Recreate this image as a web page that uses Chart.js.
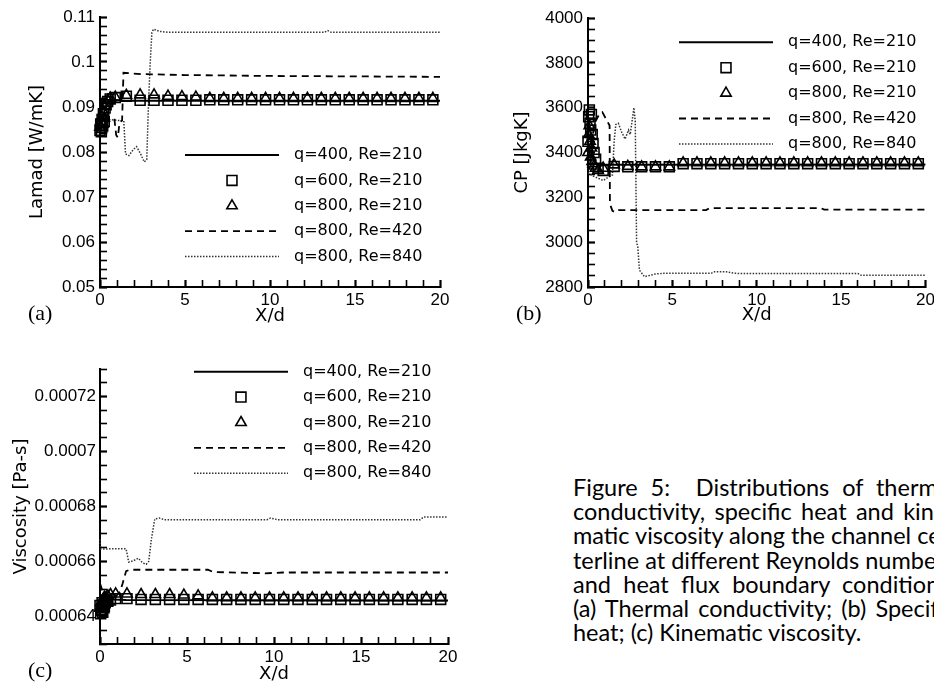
<!DOCTYPE html>
<html>
<head>
<meta charset="utf-8">
<script src="https://cdn.jsdelivr.net/npm/chart.js@4.4.1/dist/chart.umd.min.js"></script>
<style>
  html, body { margin: 0; padding: 0; background: #fff; overflow: hidden; }
  body { width: 934px; height: 687px; position: relative; }
  canvas { position: absolute; }
  .tag { position: absolute; font-family: "Liberation Serif", serif; font-size: 22px; line-height: 24px; color: #000; }
  #caption { position: absolute; left: 573px; top: 475px; width: 382px;
             font-family: "Lato", sans-serif; font-size: 23.5px; line-height: 24.2px; color: #000; white-space: nowrap; }
  #caption div { text-align: justify; text-align-last: justify; }
  #caption div.last { text-align: left; text-align-last: left; }
</style>
</head>
<body>
<canvas id="chartA" width="467" height="330" style="left:0;top:0"></canvas>
<canvas id="chartB" width="467" height="330" style="left:467px;top:0"></canvas>
<canvas id="chartC" width="467" height="357" style="left:0;top:330px"></canvas>
<div class="tag" style="left:28px;top:301px">(a)</div>
<div class="tag" style="left:516px;top:301px">(b)</div>
<div class="tag" style="left:28px;top:658px">(c)</div>
<div id="caption">
  <div>Figure 5:&nbsp; Distributions of thermal</div>
  <div>conductivity, specific heat and kine-</div>
  <div>matic viscosity along the channel cen-</div>
  <div>terline at different Reynolds numbers</div>
  <div>and heat flux boundary conditions.</div>
  <div>(a) Thermal conductivity; (b) Specific</div>
  <div class="last">heat; (c) Kinematic viscosity.</div>
</div>
<script>
// series names (same five cases in every panel)
const SERIES_LABELS = ['q=400, Re=210', 'q=600, Re=210', 'q=800, Re=210', 'q=800, Re=420', 'q=800, Re=840'];

// tick labels
const X_TICK_LABELS = ['0', '5', '10', '15', '20'];
const A_Y_TICK_LABELS = ['0.05', '0.06', '0.07', '0.08', '0.09', '0.1', '0.11'];
const B_Y_TICK_LABELS = ['2800', '3000', '3200', '3400', '3600', '3800', '4000'];
const C_Y_TICK_LABELS = ['0.00064', '0.00066', '0.00068', '0.0007', '0.00072'];

// x positions of the symbol series (q=600 / q=800 at Re=210)
const MARKER_X = [0, 0.04, 0.08, 0.12, 0.16, 0.2, 0.25, 0.3, 0.36, 0.45, 0.6, 0.9,
  1.55, 2.36, 3.18, 4.0, 4.82, 5.64, 6.46, 7.28, 8.1, 8.92, 9.74, 10.56, 11.38,
  12.2, 13.02, 13.84, 14.66, 15.48, 16.3, 17.12, 17.94, 18.76, 19.58];

// (a) thermal conductivity
const A_SOLID = [[0, 0.0845], [0.08, 0.0855], [0.15, 0.087], [0.25, 0.0888], [0.35, 0.0902],
  [0.5, 0.0912], [0.8, 0.0915], [1.5, 0.0914], [20, 0.0914]];
const A_SQUARE_Y = [0.0848, 0.0862, 0.0845, 0.0872, 0.0858, 0.0885, 0.0868, 0.0898, 0.0905, 0.0912, 0.0918, 0.0921,
  0.0924, 0.0915, 0.0915, 0.0915, 0.0915, 0.0915, 0.0916, 0.0916, 0.0916, 0.0916, 0.0916, 0.0916,
  0.0916, 0.0916, 0.0916, 0.0916, 0.0916, 0.0916, 0.0916, 0.0916, 0.0916, 0.0916, 0.0916];
const A_TRIANGLE_Y = [0.0855, 0.0868, 0.085, 0.0878, 0.0862, 0.089, 0.0875, 0.0902, 0.0908, 0.0915, 0.092, 0.0922,
  0.0926, 0.0927, 0.0927, 0.0924, 0.0923, 0.0922, 0.0919, 0.0919, 0.0919, 0.0919, 0.0919, 0.0919,
  0.0919, 0.0919, 0.0919, 0.0919, 0.0919, 0.0919, 0.0919, 0.0919, 0.0919, 0.0919, 0.0919];
const A_DASHED = [[0, 0.0905], [0.1, 0.089], [0.2, 0.0876], [0.4, 0.0873], [0.85, 0.0872], [0.95, 0.0838],
  [1.05, 0.0832], [1.15, 0.0866], [1.3, 0.087], [1.38, 0.0976], [2.5, 0.0973], [5, 0.0971],
  [10, 0.0969], [15, 0.0968], [20, 0.0967]];
const A_DOTTED = [[0, 0.0875], [0.3, 0.0873], [1.4, 0.0869], [1.5, 0.0796], [1.7, 0.0792], [1.95, 0.0805],
  [2.15, 0.0812], [2.4, 0.0795], [2.6, 0.0778], [2.75, 0.0783], [2.85, 0.0905], [2.95, 0.0995],
  [3.05, 0.1065], [3.15, 0.1073], [3.5, 0.1068], [4, 0.1066], [13.2, 0.1066], [13.4, 0.107],
  [13.6, 0.1066], [20, 0.1066]];

// (b) specific heat
const B_SOLID = [[0, 3560], [0.1, 3520], [0.2, 3440], [0.3, 3380], [0.45, 3350], [0.8, 3345], [20, 3346]];
const B_SQUARE_Y = [3450, 3560, 3590, 3530, 3500, 3570, 3480, 3440, 3400, 3370, 3330, 3320,
  3338, 3336, 3336, 3336, 3336, 3350, 3350, 3350, 3350, 3350, 3350, 3350,
  3350, 3350, 3350, 3350, 3350, 3350, 3350, 3350, 3350, 3350, 3350];
const B_TRIANGLE_Y = [3400, 3480, 3520, 3450, 3380, 3420, 3360, 3350, 3340, 3330, 3320, 3330,
  3345, 3338, 3336, 3336, 3336, 3354, 3354, 3354, 3354, 3354, 3354, 3354,
  3354, 3354, 3354, 3354, 3354, 3354, 3354, 3354, 3354, 3354, 3354];
const B_DASHED = [[0, 3380], [0.2, 3450], [0.45, 3540], [0.7, 3575], [0.85, 3580], [1.1, 3545],
  [1.28, 3520], [1.3, 3170], [1.45, 3140], [1.6, 3134], [1.8, 3143], [7.0, 3143], [7.2, 3152],
  [13.8, 3152], [14.0, 3145], [20, 3145]];
const B_DOTTED = [[0, 3310], [0.3, 3295], [0.9, 3275], [1.2, 3290], [1.45, 3300], [1.55, 3450],
  [1.65, 3525], [1.8, 3530], [2.0, 3490], [2.2, 3460], [2.4, 3500], [2.5, 3480], [2.65, 3560],
  [2.72, 3600], [2.8, 3540], [2.88, 3000], [2.95, 2980], [3.05, 2875], [3.35, 2846], [4.0, 2858],
  [4.5, 2861], [7.3, 2861], [7.5, 2868], [8.2, 2868], [8.6, 2862], [9, 2860], [16, 2860],
  [16.2, 2852], [20, 2852]];

// (c) viscosity
const C_SOLID = [[0, 0.000642], [0.08, 0.0006425], [0.15, 0.000646], [0.22, 0.000648], [0.4, 0.0006472],
  [0.8, 0.0006462], [1.5, 0.000646], [20, 0.0006458]];
const C_SQUARE_Y = [0.000644, 0.000641, 0.0006425, 0.000645, 0.0006415, 0.000644, 0.0006435, 0.000645,
  0.000646, 0.0006455, 0.000646, 0.0006465, 0.0006465, 0.0006462, 0.0006462, 0.0006462, 0.0006462,
  0.0006462, 0.0006462, 0.0006462, 0.0006462, 0.0006462, 0.0006462, 0.0006462, 0.0006462, 0.0006462,
  0.0006462, 0.0006462, 0.0006462, 0.0006462, 0.0006462, 0.0006462, 0.0006462, 0.0006462, 0.0006462];
const C_TRIANGLE_Y = [0.000643, 0.000645, 0.0006415, 0.0006445, 0.000646, 0.0006425, 0.000647, 0.0006465,
  0.000647, 0.0006475, 0.000648, 0.0006482, 0.0006482, 0.000648, 0.000648, 0.000648, 0.0006478,
  0.0006475, 0.0006468, 0.0006468, 0.0006468, 0.0006468, 0.0006468, 0.0006468, 0.0006468, 0.0006468,
  0.0006468, 0.0006468, 0.0006468, 0.0006468, 0.0006468, 0.0006468, 0.0006468, 0.0006468, 0.0006468];
const C_DASHED = [[0, 0.000652], [0.08, 0.0006505], [0.2, 0.000648], [0.5, 0.000647], [0.9, 0.0006472],
  [1.15, 0.000649], [1.3, 0.000652], [1.5, 0.0006565], [1.7, 0.000657], [6.2, 0.000657],
  [6.5, 0.0006562], [9.5, 0.0006557], [10.5, 0.000656], [20, 0.000656]];
const C_DOTTED = [[0, 0.000668], [0.04, 0.0006645], [0.5, 0.0006646], [1.5, 0.0006646], [1.65, 0.0006598],
  [1.9, 0.0006602], [2.2, 0.0006612], [2.45, 0.0006595], [2.65, 0.000659], [2.8, 0.00066],
  [2.95, 0.000668], [3.15, 0.0006755], [3.4, 0.0006758], [3.7, 0.0006752], [9.6, 0.0006752],
  [9.8, 0.0006758], [10.2, 0.0006752], [18.4, 0.0006752], [18.6, 0.0006762], [20, 0.0006762]];

function pairs(arr) { return arr.map(p => ({ x: p[0], y: p[1] })); }
function markers(ys) { return MARKER_X.map((x, i) => ({ x: x, y: ys[i] })); }

function buildDatasets(solid, squares, triangles, dashed, dotted) {
  const line = { showLine: true, pointRadius: 0, tension: 0, fill: false, clip: 10 };
  const sym = { showLine: false, pointBorderColor: '#000', pointBackgroundColor: 'rgba(0,0,0,0)',
                pointBorderWidth: 1.6, clip: 10 };
  return [
    Object.assign({ label: SERIES_LABELS[0], data: pairs(solid), borderColor: '#000', borderWidth: 2 }, line),
    Object.assign({ label: SERIES_LABELS[1], data: markers(squares), pointStyle: 'rect', pointRadius: 7 }, sym),
    Object.assign({ label: SERIES_LABELS[2], data: markers(triangles), pointStyle: 'triangle', pointRadius: 6 }, sym),
    Object.assign({ label: SERIES_LABELS[3], data: pairs(dashed), borderColor: '#000', borderWidth: 1.8, borderDash: [7, 5] }, line),
    Object.assign({ label: SERIES_LABELS[4], data: pairs(dotted), borderColor: '#333', borderWidth: 1.5, borderDash: [1.5, 1.5] }, line)
  ];
}

function labelFor(labels, tol) {
  return v => {
    const hit = labels.find(l => Math.abs(parseFloat(l) - v) < tol);
    return hit === undefined ? '' : hit;
  };
}

function drawMarker(ctx, style, r, cx, cy, lw) {
  ctx.save();
  ctx.setLineDash([]);
  ctx.lineWidth = lw;
  ctx.strokeStyle = '#000';
  ctx.beginPath();
  if (style === 'rect') {
    const s = r * Math.SQRT1_2;
    ctx.rect(cx - s, cy - s, 2 * s, 2 * s);
  } else {
    ctx.moveTo(cx, cy - r);
    ctx.lineTo(cx + r * 0.866, cy + r / 2);
    ctx.lineTo(cx - r * 0.866, cy + r / 2);
    ctx.closePath();
  }
  ctx.stroke();
  ctx.restore();
}

// in-plot legend, Tecplot style
const tecplotLegend = {
  id: 'tecplotLegend',
  afterDraw(chart, args, opts) {
    const ctx = chart.ctx;
    ctx.save();
    ctx.font = '16px "DejaVu Sans"';
    ctx.fillStyle = '#000';
    ctx.textBaseline = 'middle';
    chart.data.datasets.forEach((ds, i) => {
      const y = opts.y0 + i * 25.4;
      const x1 = opts.x0, x2 = opts.x0 + 94;
      if (ds.showLine === false) {
        drawMarker(ctx, ds.pointStyle, ds.pointRadius, (x1 + x2) / 2, y, ds.pointBorderWidth);
      } else {
        ctx.setLineDash(ds.borderDash || []);
        ctx.lineWidth = ds.borderWidth;
        ctx.strokeStyle = ds.borderColor;
        ctx.beginPath();
        ctx.moveTo(x1, y);
        ctx.lineTo(x2, y);
        ctx.stroke();
        ctx.setLineDash([]);
      }
      ctx.fillText(ds.label, x1 + 109, y);
    });
    ctx.restore();
  }
};

function buildOptions(p) {
  const tickFont = { family: 'Liberation Sans', size: 17 };
  const titleFont = { family: 'DejaVu Sans', size: 18 };
  const xLabel = labelFor(X_TICK_LABELS, 0.01);
  const yLabel = labelFor(p.yLabels, p.yStep / 10);
  // tick marks point into the plot; labelled ones drawn heavier
  const inwardGrid = major => ({
    display: true, drawOnChartArea: false, drawTicks: true, tickLength: -7, tickColor: '#000',
    tickWidth: c => (c.tick && major(c.tick.value) ? 2.2 : 1.6)
  });
  return {
    responsive: false,
    animation: false,
    events: [],
    layout: { padding: p.pad },
    plugins: {
      legend: { display: false },
      tooltip: { enabled: false },
      tecplotLegend: { x0: p.legend.x0, y0: p.legend.y0 }
    },
    scales: {
      x: {
        type: 'linear', position: 'bottom', min: 0, max: 20,
        ticks: { stepSize: 1, autoSkip: false, maxRotation: 0, padding: 10, color: '#000', font: tickFont,
                 callback: xLabel },
        grid: inwardGrid(xLabel),
        border: { display: true, color: '#000', width: 2 },
        title: { display: true, text: 'X/d', color: '#000', font: titleFont, padding: { top: 0, bottom: p.xTitlePad } },
        afterFit: s => { s.height = 43; s.paddingLeft = 0; s.paddingRight = 0; }
      },
      y: {
        type: 'linear', position: 'left', min: p.yMin, max: p.yMax,
        ticks: { stepSize: p.yStep, autoSkip: false, padding: p.yTickPad + 7, color: '#000', font: tickFont,
                 callback: yLabel },
        grid: inwardGrid(yLabel),
        border: { display: true, color: '#000', width: 2 },
        title: { display: true, text: p.yTitle, color: '#000', font: titleFont, padding: { top: p.yTitlePad, bottom: 0 } },
        afterFit: s => { s.width = p.yWidth; s.paddingTop = 0; s.paddingBottom = 0; }
      }
    }
  };
}

function makeChart(id, datasets, p) {
  return new Chart(document.getElementById(id), {
    type: 'line',
    data: { datasets: datasets },
    options: buildOptions(p),
    plugins: [tecplotLegend]
  });
}

makeChart('chartA', buildDatasets(A_SOLID, A_SQUARE_Y, A_TRIANGLE_Y, A_DASHED, A_DOTTED), {
  pad: { left: 0, top: 17, right: 27, bottom: 0 },
  yMin: 0.05, yMax: 0.11, yStep: 0.002, yLabels: A_Y_TICK_LABELS,
  yTitle: 'Lamad [W/mK]', yWidth: 100, yTitlePad: 27, yTickPad: 5, xTitlePad: 3,
  legend: { x0: 185, y0: 155 }
});

makeChart('chartB', buildDatasets(B_SOLID, B_SQUARE_Y, B_TRIANGLE_Y, B_DASHED, B_DOTTED), {
  pad: { left: 0, top: 18, right: 8, bottom: 0 },
  yMin: 2800, yMax: 4000, yStep: 50, yLabels: B_Y_TICK_LABELS,
  yTitle: 'CP [JkgK]', yWidth: 121, yTitlePad: 45, yTickPad: 5, xTitlePad: 4,
  legend: { x0: 212, y0: 42.3 }
});

makeChart('chartC', buildDatasets(C_SOLID, C_SQUARE_Y, C_TRIANGLE_Y, C_DASHED, C_DOTTED), {
  pad: { left: 0, top: 39, right: 19, bottom: 0 },
  yMin: 0.00063, yMax: 0.00073, yStep: 0.000005, yLabels: C_Y_TICK_LABELS,
  yTitle: 'Viscosity [Pa-s]', yWidth: 100, yTitlePad: 11, yTickPad: 4, xTitlePad: 2,
  legend: { x0: 194, y0: 41.7 }
});
</script>
</body>
</html>
